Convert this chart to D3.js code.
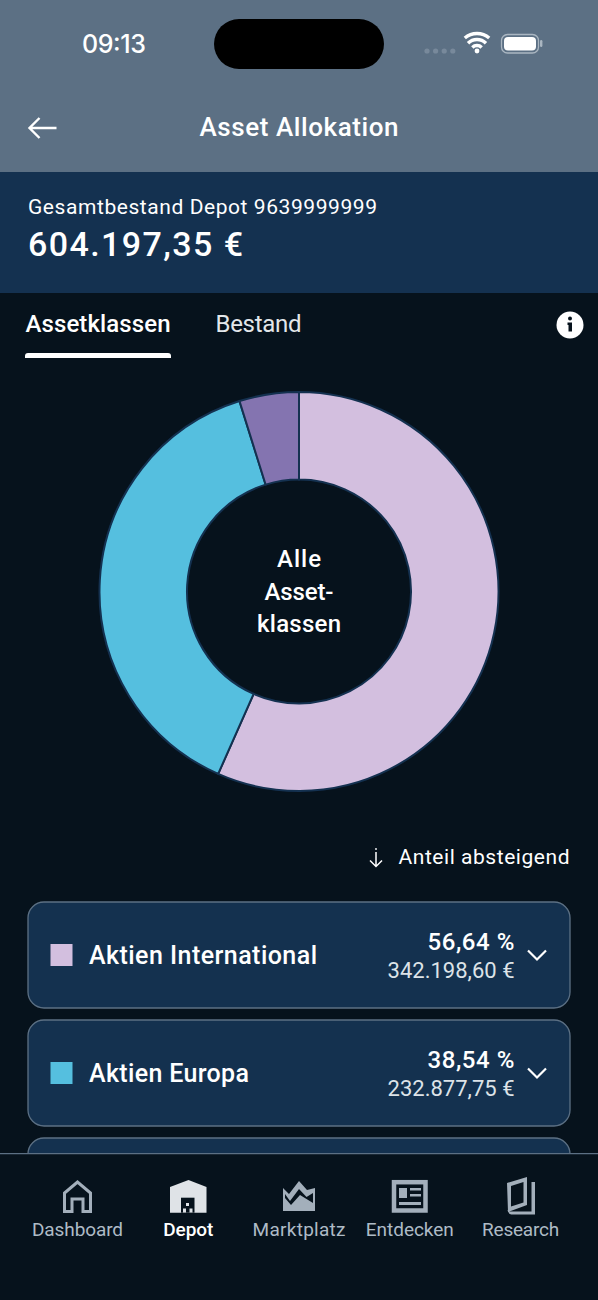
<!DOCTYPE html>
<html>
<head>
<meta charset="utf-8">
<script src="https://cdn.jsdelivr.net/npm/d3@7"></script>
<style>
  html, body { margin: 0; padding: 0; background: #06121c; }
  svg { display: block; }
  text { font-family: Roboto, sans-serif; fill: #ffffff; }
</style>
</head>
<body>
<svg id="screen" width="598" height="1300"></svg>
<script>
// 1: DATA
const assetClasses = ["Aktien International", "Aktien Europa", "Sonstige"];
const shares = [56.64, 38.54, 4.82];
const shareLabels = ["56,64 %", "38,54 %"];
const amountLabels = ["342.198,60 €", "232.877,75 €"];
const centerLabel = ["Alle", "Asset-", "klassen"];
const navLabels = ["Dashboard", "Depot", "Marktplatz", "Entdecken", "Research"];

// 2: SET UP
const width = 598, height = 1300;
const svg = d3.select("#screen");
const color = d3.scaleOrdinal().domain(assetClasses).range(["#d3bfdf", "#55bfdf", "#8474b0"]);

// text helper, textLength keeps the measured width of the original
function label(parent, str, x, y, size, opts = {}) {
    const t = parent.append("text")
        .attr("x", x).attr("y", y)
        .attr("font-size", size)
        .attr("font-weight", opts.weight || 400)
        .attr("text-anchor", opts.anchor || "start")
        .style("fill", opts.fill || "#ffffff")
        .style("font-family", opts.family || null)
        .text(str);
    if (opts.len) t.attr("textLength", opts.len).attr("lengthAdjust", "spacing");
    return t;
}

// backgrounds
svg.append("rect").attr("width", width).attr("height", height).attr("fill", "#06121c");
svg.append("rect").attr("width", width).attr("height", 172).attr("fill", "#5c7084");
svg.append("rect").attr("y", 172).attr("width", width).attr("height", 121).attr("fill", "#143150");

// 3: STATUS BAR
label(svg, "09:13", 82, 53, 25, { family: "Inter", weight: 500, len: 64 });
svg.append("rect").attr("x", 214).attr("y", 19).attr("width", 170).attr("height", 50).attr("rx", 25).attr("fill", "#000");
svg.selectAll(".dot").data([0, 1, 2, 3]).join("circle")
    .attr("cx", i => 427 + i * 8.6).attr("cy", 51).attr("r", 2.6).attr("fill", "#78899b");
// wifi
const wifi = svg.append("g").attr("transform", "translate(477,52)")
    .attr("fill", "none").attr("stroke", "#fff").attr("stroke-width", 3.4);
[6.5, 12.5].forEach(r => wifi.append("path")
    .attr("d", d3.arc().innerRadius(r).outerRadius(r).startAngle(-0.8).endAngle(0.8)()));
wifi.append("path")
    .attr("d", d3.arc().innerRadius(18.5).outerRadius(18.5).startAngle(-0.72).endAngle(0.72)());
wifi.append("circle").attr("cy", -1).attr("r", 2.4).attr("fill", "#fff").attr("stroke", "none");
// battery
svg.append("rect").attr("x", 501.5).attr("y", 34.5).attr("width", 37).attr("height", 18.5).attr("rx", 6)
    .attr("fill", "none").attr("stroke", "#aab6c1").attr("stroke-width", 1.3);
svg.append("rect").attr("x", 504).attr("y", 37).attr("width", 32).attr("height", 13.5).attr("rx", 4).attr("fill", "#fff");
svg.append("rect").attr("x", 540).attr("y", 40).attr("width", 2.4).attr("height", 7).attr("rx", 1.2).attr("fill", "#aab6c1");

// 4: HEADER
svg.append("path").attr("d", "M56.5,128H30M39.5,118L29.5,128L39.5,138")
    .attr("fill", "none").attr("stroke", "#fff").attr("stroke-width", 2.4);
label(svg, "Asset Allokation", 299, 136, 26, { anchor: "middle", weight: 500, len: 199 });
label(svg, "Gesamtbestand Depot 9639999999", 28, 213.5, 21, { len: 349 });
label(svg, "604.197,35 €", 28, 256, 34, { weight: 500, len: 215 });

// 5: TABS
label(svg, "Assetklassen", 25.5, 332, 24, { weight: 500, len: 145 });
label(svg, "Bestand", 215.5, 332, 24, { fill: "#e3e7ea", len: 86 });
svg.append("path").attr("d", "M25,358V356Q25,353 28,353H168Q171,353 171,356V358Z").attr("fill", "#fff");
svg.append("circle").attr("cx", 570).attr("cy", 325).attr("r", 13.5).attr("fill", "#fff");
svg.append("circle").attr("cx", 570).attr("cy", 318.5).attr("r", 2).attr("fill", "#06121c");
svg.append("path").attr("d", "M567.5,322.5H572V331.5H568.5V325H567.5Z").attr("fill", "#06121c");

// 6: DONUT
const pie = d3.pie().sort(null).value(d => d);
const arc = d3.arc().innerRadius(112).outerRadius(199.5);
const donut = svg.append("g").attr("transform", "translate(299,591.5)");
donut.selectAll("path").data(pie(shares)).join("path")
    .attr("d", arc)
    .attr("fill", (d, i) => color(assetClasses[i]))
    .attr("stroke", "#143150")
    .attr("stroke-width", 2);
const centerLengths = [44, 69, 84];
centerLabel.forEach((s, i) => label(donut, s, 0, -24.5 + i * 32.5, 24, { anchor: "middle", weight: 500, len: centerLengths[i] }));

// 7: SORT LABEL
svg.append("path").attr("d", "M376,852V866.5M370,860.5L376,866.5L382,860.5")
    .attr("fill", "none").attr("stroke", "#fff").attr("stroke-width", 1.5);
svg.append("circle").attr("cx", 376).attr("cy", 849).attr("r", 0.9).attr("fill", "#fff");
label(svg, "Anteil absteigend", 398.5, 864, 21, { len: 171 });

// 8: LIST CARDS
const cardY = d3.scaleLinear().domain([0, 1]).range([902, 1020]);
const cards = svg.selectAll(".card").data(assetClasses).join("g")
    .attr("class", "card")
    .attr("transform", (d, i) => `translate(28,${cardY(i)})`);
cards.append("rect")
    .attr("width", 542).attr("height", 106).attr("rx", 16)
    .attr("fill", "#14314f").attr("stroke", "#5c7084").attr("stroke-width", 1.3);
const nameLengths = [228, 160];
cards.filter((d, i) => i < 2).each(function (d, i) {
    const g = d3.select(this);
    g.append("rect").attr("x", 22.5).attr("y", 42).attr("width", 22).attr("height", 22).attr("fill", color(d));
    label(g, d, 61, 61.5, 25, { weight: 500, len: nameLengths[i] });
    label(g, shareLabels[i], 486.5, 47.5, 24, { anchor: "end", weight: 500, len: 87 });
    label(g, amountLabels[i], 486.5, 76, 22, { anchor: "end", fill: "#dde3e8", len: 127 });
    g.append("path").attr("d", "M500,48.5L509,57.5L518,48.5")
        .attr("fill", "none").attr("stroke", "#fff").attr("stroke-width", 2.2);
});

// 9: BOTTOM NAV
svg.append("rect").attr("y", 1154).attr("width", width).attr("height", 146).attr("fill", "#06121c");
svg.append("line").attr("x1", 0).attr("x2", width).attr("y1", 1153.7).attr("y2", 1153.7)
    .attr("stroke", "#5c7084").attr("stroke-width", 1.2);
const navX = d3.scalePoint().domain(navLabels).range([77.5, 520.6]);
const navLengths = [91, 50, 93, 88, 77];
navLabels.forEach((s, i) => label(svg, s, navX(s), 1235.5, 19, {
    anchor: "middle", len: navLengths[i],
    fill: s === "Depot" ? "#ffffff" : "#aebbc6",
    weight: s === "Depot" ? 500 : 400
}));

const iconGrey = "#a3afbb";
const outline = { fill: "none", stroke: iconGrey, "stroke-width": 3 };
const applyAttrs = (sel, o) => { Object.keys(o).forEach(k => sel.attr(k, o[k])); return sel; };
// Dashboard
applyAttrs(svg.append("path"), outline)
    .attr("d", "M64.5,1211.5V1193L77.5,1182L90.5,1193V1211.5H83V1199H72V1211.5Z");
// Depot
svg.append("path").attr("d", "M170,1212.7V1187L188.5,1180L206.5,1187V1212.7Z").attr("fill", "#dfe3e7");
svg.append("rect").attr("x", 181).attr("y", 1197.7).attr("width", 13.5).attr("height", 15).attr("fill", "#06121c");
svg.append("path").attr("d", "M186,1203h3v3h-3ZM183,1208.5h3v4h-3ZM189.5,1208.5h3v4h-3Z").attr("fill", "#dfe3e7");
// Marktplatz
svg.append("path").attr("d", "M283,1188L289,1194L299,1181L307,1190L315,1188V1211H283Z").attr("fill", iconGrey);
svg.append("path").attr("d", "M285,1194L290,1201L299,1189L306.5,1197L313,1193V1203L300,1195L291,1205L285,1198Z").attr("fill", "#06121c");
// Entdecken
applyAttrs(svg.append("rect"), outline).attr("stroke-width", 4.5)
    .attr("x", 394).attr("y", 1182.2).attr("width", 31.5).attr("height", 28.3);
svg.append("path").attr("d", "M399,1188h8v10h-8ZM410,1188h11v2.5h-11ZM410,1194h11v2.5h-11ZM399,1202h22v3h-22Z").attr("fill", iconGrey);
// Research
svg.append("path").attr("fill-rule", "evenodd").attr("fill", iconGrey)
    .attr("d", "M507,1183L527,1177V1205L508,1212ZM511,1186V1206.5L523.5,1202.5V1182Z");
svg.append("path").attr("fill", iconGrey)
    .attr("d", "M531.5,1182H535V1214.5H513Q508,1214.5 507.5,1210L510,1211.5H531.5Z");
</script>
</body>
</html>
